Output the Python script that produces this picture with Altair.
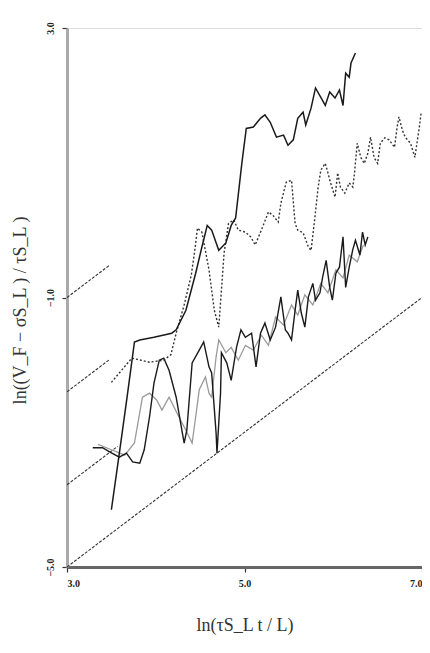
import altair as alt
import pandas as pd

# ---- data (x = ln(tau S_L t / L), y = ln((V_F - sigma S_L)/tau S_L)) ----
s1_x = [3.50, 3.59, 3.68, 3.76, 3.82, 3.98, 4.18, 4.23, 4.34, 4.45, 4.52, 4.58, 4.63, 4.71, 4.79,
        4.85, 4.90, 4.97, 5.02, 5.10, 5.18, 5.23, 5.29, 5.36, 5.44, 5.49, 5.55, 5.60, 5.66, 5.69,
        5.75, 5.80, 5.86, 5.91, 5.96, 6.02, 6.07, 6.11, 6.14, 6.18, 6.20, 6.25]
s1_y = [-4.15, -3.31, -2.45, -1.66, -1.63, -1.59, -1.53, -1.48, -1.19, -0.64, -0.25, 0.07, 0.00, -0.30, -0.19,
        0.07, 0.18, 0.99, 1.51, 1.53, 1.66, 1.71, 1.60, 1.38, 1.41, 1.26, 1.34, 1.66, 1.75, 1.56,
        1.81, 2.11, 1.97, 1.85, 2.05, 1.96, 2.08, 1.85, 2.33, 2.27, 2.48, 2.63]

dot_x = [3.50, 3.73, 3.93, 4.09, 4.17, 4.23, 4.32, 4.40, 4.44, 4.47, 4.52, 4.60, 4.66, 4.71, 4.77,
         4.82, 4.88, 4.93, 5.01, 5.07, 5.12, 5.19, 5.27, 5.32, 5.38, 5.41, 5.47, 5.53, 5.57, 5.60,
         5.66, 5.72, 5.75, 5.79, 5.83, 5.86, 5.91, 5.94, 5.97, 6.02, 6.05, 6.08, 6.13, 6.18, 6.22,
         6.24, 6.27, 6.31, 6.35, 6.39, 6.42, 6.46, 6.50, 6.53, 6.58, 6.63, 6.69, 6.72, 6.74, 6.78,
         6.81, 6.87, 6.92, 6.97, 6.99]
dot_y = [-2.26, -1.90, -1.96, -1.93, -1.85, -1.53, -1.11, -0.67, -0.30, 0.03, -0.03, -0.59, -1.19, -1.44, -0.34,
         0.10, 0.15, 0.00, -0.03, -0.10, -0.22, 0.00, 0.27, 0.22, 0.12, 0.40, 0.71, 0.74, 0.10, 0.00,
         -0.04, -0.25, -0.30, 0.15, 0.64, 0.89, 0.99, 0.85, 0.70, 0.49, 0.85, 0.64, 0.55, 0.70, 0.64,
         0.85, 1.29, 1.08, 0.99, 1.14, 1.38, 1.08, 0.99, 1.29, 1.37, 1.34, 1.23, 1.53, 1.68, 1.48,
         1.38, 1.29, 1.08, 1.53, 1.74]

s2_x = [3.29, 3.40, 3.48, 3.59, 3.67, 3.74, 3.82, 3.87, 3.93, 3.98, 4.04, 4.09, 4.15, 4.23, 4.28,
        4.32, 4.35, 4.41, 4.49, 4.54, 4.60, 4.63, 4.68, 4.69, 4.73, 4.74, 4.80, 4.85, 4.91, 4.96,
        5.01, 5.08, 5.13, 5.18, 5.23, 5.29, 5.35, 5.41, 5.46, 5.49, 5.53, 5.57, 5.60, 5.64, 5.68,
        5.72, 5.77, 5.80, 5.85, 5.88, 5.92, 5.96, 5.99, 6.03, 6.07, 6.11, 6.14, 6.18, 6.22, 6.25,
        6.30, 6.33, 6.36, 6.39]
s2_y = [-3.23, -3.23, -3.29, -3.37, -3.31, -3.44, -3.46, -3.26, -2.77, -2.27, -1.93, -1.90, -2.08, -2.48, -2.86,
        -3.16, -2.97, -1.97, -1.78, -1.66, -2.03, -2.12, -3.01, -3.31, -2.42, -1.82, -1.97, -2.23, -1.74, -1.48,
        -1.59, -1.53, -2.03, -1.53, -1.38, -1.63, -1.44, -0.99, -1.48, -1.53, -1.63, -1.19, -0.89, -1.23, -1.44,
        -0.99, -0.79, -1.04, -0.93, -0.70, -0.45, -0.85, -1.04, -0.64, -0.55, -0.10, -0.85, -0.55, -0.29, -0.15,
        -0.37, -0.03, -0.22, -0.10]

g_x = [3.35, 3.50, 3.65, 3.76, 3.85, 3.93, 4.01, 4.07, 4.15, 4.26, 4.34, 4.41, 4.45, 4.49, 4.56,
       4.60, 4.63, 4.68, 4.71, 4.79, 4.85, 4.93, 5.01, 5.10, 5.19, 5.27, 5.35, 5.44, 5.53, 5.60,
       5.68, 5.77, 5.86, 5.94, 6.03, 6.11, 6.18, 6.27, 6.34]
g_y = [-3.18, -3.26, -3.34, -3.16, -2.48, -2.42, -2.52, -2.67, -2.48, -2.77, -2.97, -3.16, -2.77, -2.37, -2.18,
       -2.42, -2.48, -1.88, -1.63, -1.82, -1.74, -1.93, -1.71, -1.78, -1.56, -1.71, -1.29, -1.41, -1.11, -1.26,
       -0.96, -1.11, -0.79, -0.93, -0.59, -0.71, -0.37, -0.47, -0.22]

# straight reference lines (slope one)
base_x = [3.0, 7.0]
base_y = [-5.0, -1.0]
r1_x = [3.0, 3.48]
r1_y = [-1.0, -0.52]
r2_x = [3.0, 3.48]
r2_y = [-2.40, -1.92]
r3_x = [3.0, 3.57]
r3_y = [-3.78, -3.21]

x_ticks = [3.0, 5.0, 7.0]
y_ticks = [-5.0, -1.0, 3.0]

FONT = "Liberation Serif"

xs = alt.Scale(domain=[3, 7], nice=False, zero=False)
ys = alt.Scale(domain=[-5, 3], nice=False, zero=False)

x_axis = alt.Axis(values=x_ticks, format=".1f", title="ln(τS_L t  / L)", grid=False,
                  labelFont=FONT, labelFontSize=10, labelFontWeight="bold", labelColor="#222",
                  domainColor="#666", domainWidth=3, tickColor="#333", tickSize=5, tickWidth=1.2,
                  labelPadding=6, labelFlush=True, titleFont=FONT, titleFontSize=18,
                  titleFontWeight="normal", titleColor="#333", titlePadding=28)
y_axis = alt.Axis(values=y_ticks, format=".1f", title="ln((V_F − σS_L ) / τS_L )", grid=False,
                  labelFont=FONT, labelFontSize=10, labelFontWeight="bold", labelColor="#222",
                  labelAngle=-90, labelAlign="center", labelBaseline="middle", labelFlush=False,
                  domainColor="#aaa", domainWidth=3, tickColor="#333", tickSize=5, tickWidth=1.2,
                  labelPadding=12, titleFont=FONT, titleFontSize=18, titleFontWeight="normal",
                  titleColor="#333", titleX=-47, titleY=282, titleBaseline="middle")


def line(xv, yv, color, width, dash=None):
    df = pd.DataFrame({"x": xv, "y": yv, "o": list(range(len(xv)))})
    kw = dict(color=color, strokeWidth=width, clip=True)
    if dash:
        kw["strokeDash"] = dash
    return alt.Chart(df).mark_line(**kw).encode(
        x=alt.X("x:Q", scale=xs, axis=x_axis),
        y=alt.Y("y:Q", scale=ys, axis=y_axis),
        order="o:Q",
    )


layers = [
    line(base_x, base_y, "#333", 1.1, [3, 1.5]),
    line(r1_x, r1_y, "#333", 1.1, [3, 1.5]),
    line(r2_x, r2_y, "#333", 1.1, [3, 1.5]),
    line(r3_x, r3_y, "#333", 1.1, [3, 1.5]),
    line(g_x, g_y, "#9a9a9a", 1.3),
    line(s2_x, s2_y, "#1a1a1a", 1.4),
    line(dot_x, dot_y, "#333", 1.4, [2, 2]),
    line(s1_x, s1_y, "#1a1a1a", 1.5),
]

chart = alt.layer(*layers).properties(
    width=355, height=539,
    autosize=alt.AutoSizeParams(type="none"),
    padding={"left": 59, "top": 20, "right": 0, "bottom": 72},
).configure_view(strokeWidth=0).configure(background="white")

chart.save("out.html", embed_options={"renderer": "svg", "actions": False})
